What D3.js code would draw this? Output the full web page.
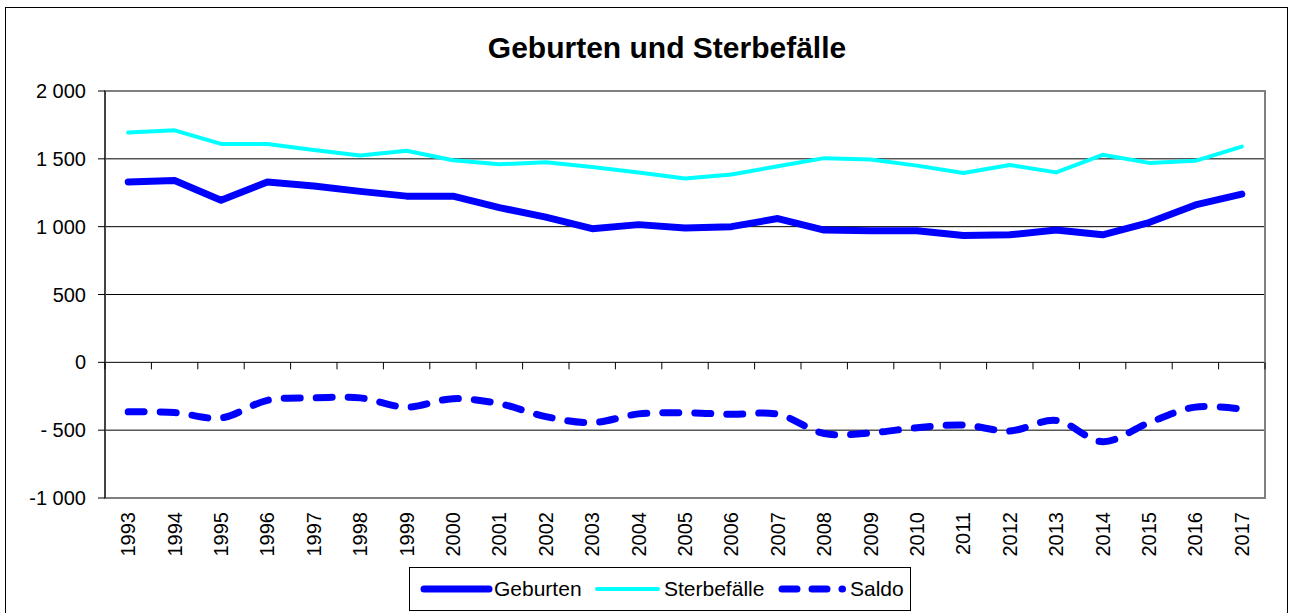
<!DOCTYPE html>
<head>
  <meta charset="utf-8">
  <title>Geburten und Sterbefälle</title>
  <script src="https://d3js.org/d3.v7.min.js"></script>
  <style>
    body { margin: 0; background: #fff; }
    text {
      font-family: "Liberation Sans", Arial, sans-serif;
      fill: #000;
    }
  </style>
</head>

<body>
  <script>
    // values
    var years = ["1993", "1994", "1995", "1996", "1997", "1998", "1999", "2000", "2001", "2002",
                 "2003", "2004", "2005", "2006", "2007", "2008", "2009", "2010", "2011", "2012",
                 "2013", "2014", "2015", "2016", "2017"];
    var geburten = [1330, 1340, 1195, 1330, 1300, 1260, 1225, 1225, 1140, 1070,
                    985, 1015, 990, 1000, 1060, 975, 970, 970, 935, 940,
                    975, 940, 1030, 1160, 1240];
    var sterbefaelle = [1695, 1710, 1610, 1610, 1565, 1525, 1560, 1490, 1460, 1475,
                        1440, 1400, 1355, 1385, 1445, 1505, 1495, 1450, 1395, 1455,
                        1400, 1530, 1470, 1485, 1590];
    var saldo = [-365, -370, -410, -280, -262, -262, -330, -268, -305, -400,
                 -445, -380, -372, -383, -383, -525, -520, -482, -462, -506,
                 -428, -585, -445, -330, -345];
    var yTicks = [2000, 1500, 1000, 500, 0, -500, -1000];
    var yTickLabels = ["2 000", "1 500", "1 000", "500", "0", "- 500", "-1 000"];

    var width = 1290,
        height = 613,
        plot = {left: 105, right: 1265, top: 91, bottom: 498};

    var svg = d3.select("body").append("svg")
        .attr("width", width)
        .attr("height", height);

    // outer chart frame
    svg.append("rect")
      .attr("x", 5.5).attr("y", 7.5)
      .attr("width", 1282).attr("height", 610)
      .style("fill", "none")
      .style("stroke", "#000")
      .style("stroke-width", 1);

    svg.append("text")
      .attr("x", 667)
      .attr("y", 58)
      .attr("text-anchor", "middle")
      .style("font-size", "30px")
      .style("font-weight", "bold")
      .text("Geburten und Sterbefälle");

    var x = d3.scaleBand()
        .domain(years)
        .range([plot.left, plot.right])
        .padding(0);
    var y = d3.scaleLinear()
        .domain([-1000, 2000])
        .range([plot.bottom, plot.top]);

    function cx(d, i) { return x(years[i]) + x.bandwidth() / 2; }

    // gridlines
    svg.selectAll(".grid")
        .data(yTicks.filter(function (d) { return d !== 2000 && d !== -1000; }))
      .enter().append("line")
        .attr("x1", plot.left).attr("x2", plot.right)
        .attr("y1", function (d) { return y(d); })
        .attr("y2", function (d) { return y(d); })
        .style("stroke", "#000")
        .style("stroke-width", 1);

    // plot border
    svg.append("rect")
      .attr("x", plot.left).attr("y", plot.top)
      .attr("width", plot.right - plot.left)
      .attr("height", plot.bottom - plot.top)
      .style("fill", "none")
      .style("stroke", "#808080")
      .style("stroke-width", 2);

    // left axis
    svg.append("line")
      .attr("x1", plot.left).attr("x2", plot.left)
      .attr("y1", plot.top).attr("y2", plot.bottom)
      .style("stroke", "#444")
      .style("stroke-width", 2);

    svg.selectAll(".ytick")
        .data(yTicks)
      .enter().append("line")
        .attr("x1", plot.left - 7).attr("x2", plot.left)
        .attr("y1", function (d) { return y(d); })
        .attr("y2", function (d) { return y(d); })
        .style("stroke", "#000");

    svg.selectAll(".ylabel")
        .data(yTicks)
      .enter().append("text")
        .attr("x", 86)
        .attr("y", function (d) { return y(d); })
        .attr("dy", "0.35em")
        .attr("text-anchor", "end")
        .style("font-size", "20px")
        .text(function (d, i) { return yTickLabels[i]; });

    // category ticks on the zero line
    var bounds = years.map(function (d) { return x(d); }).concat([plot.right]);
    svg.selectAll(".xtick")
        .data(bounds)
      .enter().append("line")
        .attr("x1", function (d) { return d; })
        .attr("x2", function (d) { return d; })
        .attr("y1", y(0)).attr("y2", y(0) + 7)
        .style("stroke", "#000");

    svg.selectAll(".xlabel")
        .data(years)
      .enter().append("text")
        .attr("transform", function (d) {
          return "translate(" + (x(d) + x.bandwidth() / 2) + ",512) rotate(-90)";
        })
        .attr("dy", "0.35em")
        .attr("text-anchor", "end")
        .style("font-size", "20px")
        .text(function (d) { return d; });

    // series
    var straight = d3.line()
        .x(cx)
        .y(function (d) { return y(d); });
    var smooth = d3.line()
        .x(cx)
        .y(function (d) { return y(d); })
        .curve(d3.curveCatmullRom.alpha(0.5));

    svg.append("path")
      .attr("d", straight(sterbefaelle))
      .style("fill", "none")
      .style("stroke", "#00ffff")
      .style("stroke-width", 4)
      .style("stroke-linejoin", "round")
      .style("stroke-linecap", "round");

    svg.append("path")
      .attr("d", straight(geburten))
      .style("fill", "none")
      .style("stroke", "#0000ff")
      .style("stroke-width", 7)
      .style("stroke-linejoin", "round")
      .style("stroke-linecap", "round");

    svg.append("path")
      .attr("d", smooth(saldo))
      .style("fill", "none")
      .style("stroke", "#0000ff")
      .style("stroke-width", 7)
      .style("stroke-dasharray", "16 16")
      .style("stroke-linecap", "round");

    // legend
    var legend = svg.append("g");
    legend.append("rect")
      .attr("x", 409.5).attr("y", 567.5)
      .attr("width", 501).attr("height", 43)
      .style("fill", "#fff")
      .style("stroke", "#000");

    var items = [
      {name: "Geburten", x1: 424, x2: 489, tx: 494, color: "#0000ff", w: 7, dash: null},
      {name: "Sterbefälle", x1: 597, x2: 658, tx: 664, color: "#00ffff", w: 4, dash: null},
      {name: "Saldo", x1: 782, x2: 842.5, tx: 850, color: "#0000ff", w: 7, dash: "15 15"}
    ];
    items.forEach(function (it) {
      legend.append("line")
        .attr("x1", it.x1).attr("x2", it.x2)
        .attr("y1", 589).attr("y2", 589)
        .style("stroke", it.color)
        .style("stroke-width", it.w)
        .style("stroke-linecap", "round")
        .style("stroke-dasharray", it.dash);
      legend.append("text")
        .attr("x", it.tx)
        .attr("y", 589)
        .attr("dy", "0.35em")
        .style("font-size", "21px")
        .text(it.name);
    });
  </script>
</body>
